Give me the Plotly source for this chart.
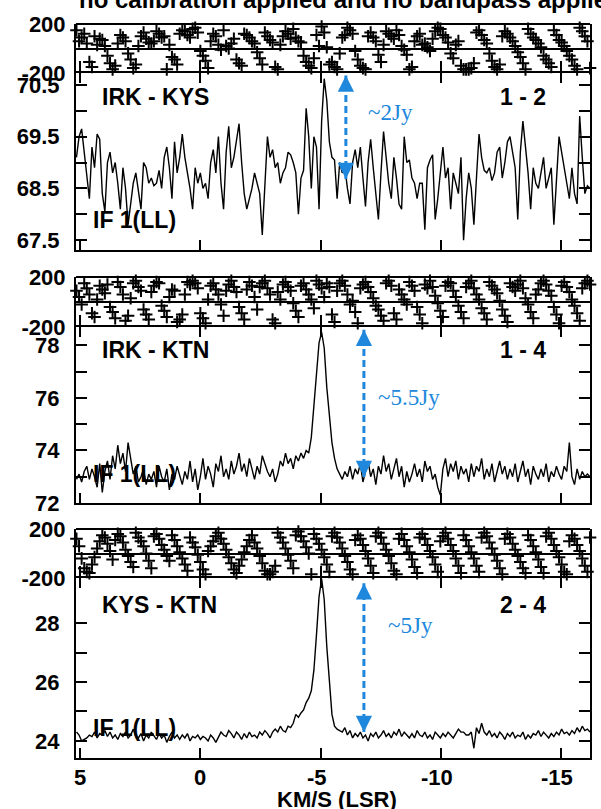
import numpy as np
import plotly.graph_objects as go

# ---------------- data ----------------
N_CH = 200
velocity = np.linspace(5.15, -16.2, N_CH)  # channel velocities (km/s, LSR)

amp_irk_kys = [
    69.1, 69.5, 69.65, 69.2, 68.8, 68.3, 69.3, 68.9, 69.55, 69.45,
    68.4, 68.05, 69.0, 69.2, 68.8, 69.0, 68.6, 68.1, 68.9, 68.5,
    67.8, 68.2, 68.6, 68.8, 68.4, 68.1, 69.0, 68.9, 68.6, 68.7,
    68.55, 68.6, 68.85, 68.5, 69.1, 69.3, 68.9, 68.3, 69.4, 68.8,
    69.1, 69.55, 69.1, 68.8, 68.5, 68.1, 68.9, 68.6, 68.8, 68.5,
    68.6, 68.3, 69.0, 69.25, 68.8, 69.5, 68.6, 68.1, 69.2, 69.7,
    68.9, 69.1, 69.45, 69.75, 69.0, 68.4, 68.1, 68.3, 68.5, 68.8,
    68.6, 68.4, 67.6, 68.6, 69.5, 69.1, 69.25, 68.9, 69.0, 68.6,
    68.8, 68.9, 69.2, 69.15, 69.0, 68.8, 68.0, 68.7, 68.85, 70.05,
    69.5, 68.5, 69.5, 69.3, 68.1, 69.8, 70.62, 70.2, 69.4, 69.1,
    69.05, 68.3, 69.0, 68.8, 68.9, 68.5, 68.2, 69.0, 69.25, 68.9,
    69.3, 68.7, 68.15, 69.0, 69.45, 68.9, 68.4, 67.9, 68.8, 69.6,
    69.1, 68.6, 68.3, 69.1, 68.7, 68.2, 68.1, 69.5, 69.0, 69.05,
    68.7, 68.6, 68.3, 68.6, 68.6, 67.7, 68.9, 69.05, 69.15, 67.9,
    68.3, 68.8, 69.3, 68.7, 68.9, 68.1, 68.8, 68.6, 68.4, 69.1,
    67.5, 68.3, 68.8, 68.5, 67.8, 68.7, 69.55, 69.1, 68.85, 68.8,
    68.9, 68.65, 68.8, 69.2, 69.3, 68.7, 69.0, 69.4, 69.5, 69.2,
    68.9, 67.9, 69.2, 69.8, 69.3, 68.8, 68.1, 68.9, 68.6, 68.5,
    68.8, 69.1, 68.5, 68.7, 68.9, 67.8, 68.6, 69.5, 69.2, 68.9,
    68.6, 68.3, 68.9, 68.4, 68.2, 69.9, 69.1, 68.4, 68.55, 68.5,
]

amp_irk_ktn = [
    72.9, 73.1, 72.8, 73.2, 73.4, 72.9, 73.3, 73.0, 72.6, 73.5,
    72.4, 73.2, 73.6, 72.9, 73.8, 73.3, 74.2, 73.5, 73.9, 73.2,
    74.3, 73.6, 73.1, 73.4, 72.8, 73.0, 73.3, 72.7, 73.1, 72.9,
    73.2, 72.6, 73.4, 73.0, 72.8, 73.3, 72.5, 73.1, 72.9, 73.4,
    73.0, 72.7, 73.2, 72.9, 73.6, 72.8, 73.3, 72.5, 73.0, 73.7,
    72.9, 73.4, 73.1, 72.6, 73.5, 73.2, 73.8, 73.0, 73.3, 72.9,
    73.6, 73.1, 73.4, 73.9, 73.2, 73.5, 73.0, 73.7, 73.3, 72.9,
    73.4, 73.1, 73.8, 73.5, 73.2, 73.0, 73.3, 72.8, 73.1, 73.6,
    73.4, 73.9, 73.5, 73.7, 73.3, 73.8, 73.6, 73.9, 73.7, 74.0,
    73.9, 74.5, 75.6, 76.9, 78.1, 78.5, 77.9, 76.4, 75.3, 74.3,
    73.7, 73.3, 73.1, 72.9, 73.2, 73.0, 73.4, 72.9, 73.3, 73.1,
    73.5, 72.8, 73.2, 73.6, 73.0, 73.3, 72.7, 73.4, 73.1, 73.8,
    73.2, 73.5, 72.9, 73.3, 73.7, 73.0, 73.4, 72.6, 73.2, 72.8,
    73.1, 73.5, 73.0, 73.3, 72.8, 73.6, 73.2, 73.4, 72.9, 73.1,
    72.6, 72.3, 73.3, 73.7, 73.0, 73.5, 73.2, 73.6, 72.9, 73.4,
    73.1, 73.3, 72.8, 73.5, 73.0, 73.4, 73.2, 73.7, 72.9, 73.3,
    73.0, 73.5, 72.8, 73.2, 73.6, 73.1, 73.4, 72.9, 73.3, 73.0,
    73.5, 72.8, 73.2, 73.6, 73.0, 73.3, 72.7, 73.4, 73.1, 72.9,
    73.3, 73.0, 73.5, 72.8, 73.2, 73.0, 73.4, 73.1, 72.9, 73.4,
    73.2, 74.3, 73.0, 72.7, 73.3, 72.9, 73.2, 73.0, 73.1, 73.0,
]

amp_kys_ktn = [
    24.3, 24.2, 24.0, 24.05, 24.1, 24.2, 24.15, 24.3, 24.1, 24.25,
    24.2, 24.35, 24.15, 24.3, 24.1, 24.2, 24.05, 24.25, 24.15, 24.3,
    24.1, 24.2, 24.4, 24.15, 24.1, 24.25, 24.0, 24.2, 24.1, 24.3,
    24.15, 24.05, 24.25, 24.1, 24.2, 23.95, 24.15, 24.3, 24.1, 24.2,
    24.05, 24.2, 24.1, 24.25, 24.0, 24.15, 24.1, 24.2, 24.05, 24.15,
    24.1, 24.0, 24.2, 24.1, 23.95, 24.1, 24.3, 24.2, 24.15, 24.35,
    24.25, 24.1, 24.3, 24.2, 24.05, 24.25, 24.1, 24.3, 24.15, 24.2,
    24.1, 24.3, 24.2, 24.35, 24.25, 24.1, 24.3, 24.4, 24.3, 24.5,
    24.35, 24.3, 24.5, 24.45, 24.6, 24.9, 24.8, 24.95, 25.05, 25.3,
    25.45, 25.7, 26.4, 27.6, 28.9, 29.5, 28.8, 27.2, 25.9, 24.9,
    24.5, 24.4, 24.35, 24.3, 24.45, 24.2, 24.35, 24.1, 24.25, 24.15,
    24.3, 24.1, 24.2, 24.0, 24.25, 24.15, 24.3, 24.1, 24.2, 24.35,
    24.15, 24.25, 24.1, 24.3, 24.2, 24.4, 24.15, 24.3, 24.2, 24.1,
    24.25, 24.1, 24.35, 24.2, 24.15, 24.3, 24.1, 24.2, 24.05, 24.3,
    24.2, 24.1, 24.25, 24.15, 24.3, 24.2, 24.1, 24.25, 24.4, 24.3,
    24.3, 24.2, 24.2, 24.3, 23.75, 24.45, 24.25, 24.6, 24.3, 24.2,
    24.35, 24.15, 24.25, 24.1, 24.3, 24.2, 24.05, 24.25, 24.15, 24.3,
    24.1, 24.2, 24.15, 24.3, 24.05, 24.2, 24.1, 24.25, 24.2, 24.35,
    24.15, 24.3, 24.2, 24.1, 24.25, 24.15, 24.3, 24.2, 24.4, 24.25,
    24.3, 24.2, 24.35, 24.25, 24.45, 24.3, 24.5, 24.35, 24.4, 24.3,
]

phase_irk_kys = [
    150, 60, 90, 120, 40, -110, -150, 100, 30, 80,
    70, 20, -60, -120, -170, -140, 40, 110, 90, 60,
    -40, -90, -160, -130, 20, 100, 130, 80, 50, 40,
    60, 140, 120, 90, 100, -170, 30, -70, -90, -130,
    120, 150, 140, 110, 90, 160, 170, 130, -20, -60,
    -100, -160, 60, 120, 100, 30, -10, 150, 20, 0,
    40, 80, -90, -120, -140, 120, 110, 90, 60, 40,
    -30, -80, -130, 130, 100, 70, 50, -150, -170, 30,
    100, 140, 120, 80, 160, 90, 60, 50, -60, -110,
    -140, -160, -80, 110, 20, 180, 130, 10, -130, -110,
    -150, -170, -40, 90, 110, 170, 150, 120, -20, -90,
    -140, -160, -170, 100, 130, 90, 60, -50, -110, 30,
    140, 120, 100, 80, 150, 110, 20, -10, -50, -170,
    -150, 60, 100, 120, 30, 40, 10, -20, 80, 140,
    170, 160, 110, 90, 50, -40, -80, 30, 60, -140,
    -170, -170, -170, -160, -120, 130, 150, 110, 70, 40,
    -40, -100, -150, -170, -130, 100, 140, 120, 90, 60,
    20, -30, -70, -120, -170, 160, 120, 90, 70, 40,
    10, -60, -90, -120, -150, 150, 110, 70, 50, 20,
    -20, -60, -90, -140, -170, 170, 140, 100, 60, -160,
]

phase_irk_ktn = [
    90, 40, -20, 150, 110, 60, -90, -120, 20, 130,
    100, 70, 140, -40, -80, -130, 160, 120, 60, -150,
    -110, 30, 150, 170, 120, 90, -60, -100, -140, 80,
    130, 160, 150, -30, -70, -120, 40, 100, 90, -160,
    -140, -100, 60, 160, 140, 170, 150, 110, -90, -130,
    -170, 20, 130, 150, 100, 60, -20, -110, 90, 140,
    170, 120, 80, -40, -90, -140, 100, 160, 130, 40,
    -60, 120, 150, 170, 110, 60, -140, -170, 80, 20,
    140, 160, 120, 90, -10, -70, -120, 130, 150, 100,
    60, 20, -50, 170, 140, 110, 40, 150, 120, -100,
    -160, 90, 150, 170, 130, 60, -20, 10, -80, -170,
    110, 140, 160, 120, 80, 30, -30, -60, -110, -150,
    150, 170, 130, -90, -140, 100, 60, 20, -20, 160,
    130, 90, -40, -100, -170, 140, 110, 170, 120, 50,
    -10, -70, -120, 130, 160, 150, 90, 40, -30, -80,
    -130, 120, 150, 170, 110, 60, 20, -50, -90, -140,
    160, 130, 100, 70, 10, -60, -110, -160, 150, 120,
    90, 140, 170, 110, 30, -20, -80, -130, 60, 100,
    150, 170, 140, 90, 50, -40, -100, -170, 130, 160,
    120, 80, 20, -30, -90, -150, 110, 150, 170, 140,
]

phase_kys_ktn = [
    120, 60, -40, -120, -150, -160, -90, -30, 40, 100,
    150, 130, 80, 20, -50, 110, 160, 140, 90, 30,
    -20, -70, -110, 170, 130, 100, 60, 0, -60, -120,
    140, 160, 120, 70, 30, -20, -60, 150, 110, 60,
    10, -40, -90, -140, 130, 90, 50, -10, -70, -130,
    -170, 20, 60, 100, 140, 170, 120, 80, 30, -30,
    -80, -130, -160, -100, -50, 10, 60, 110, 150, 90,
    40, -20, -80, -140, -170, -170, -150, -100, 170, 130,
    90, 40, -10, -60, -120, 150, 180, 140, 100, 50,
    0, -170, 160, 120, 80, 30, -30, -90, -150, 140,
    170, 130, 90, 40, -20, -70, -130, -170, 110, 150,
    120, 70, 20, -40, -100, -160, 140, 170, 130, 80,
    30, -20, -80, -140, -170, 120, 160, 110, 60, 10,
    -50, -110, -160, 130, 160, 120, 70, 20, -30, -90,
    -150, 100, 140, 170, 120, 70, 20, -40, -100, -160,
    150, 110, 60, 10, -40, -100, -150, 130, 170, 140,
    90, 40, -10, -60, -120, -170, 120, 160, 130, 80,
    30, -20, -70, -120, -160, 150, 110, 60, 10, -50,
    -110, -160, 140, 170, 120, 70, 20, -30, -90, -150,
    -170, 100, 150, 120, 70, 20, -40, -100, -150, 130,
]

baselines = ["IRK - KYS", "IRK - KTN", "KYS - KTN"]
ant_pairs = ["1 - 2", "1 - 4", "2 - 4"]
if_label = "IF 1(LL)"
amp_ranges = [[67.31, 70.73], [72.0, 78.7], [23.42, 29.53]]
amp_tickvals = [[67.5, 68, 68.5, 69, 69.5, 70, 70.5],
                [72, 73, 74, 75, 76, 77, 78],
                [24, 25, 26, 27, 28]]
amp_ticktext = [["67.5", "", "68.5", "", "69.5", "", "70.5"],
                ["72", "", "74", "", "76", "", "78"],
                ["24", "", "26", "", "28"]]
flux_labels = ["~2Jy", "~5.5Jy", "~5Jy"]
arrow_vel = [-6.05, -6.8, -6.8]
arrow_low = [68.68, 72.99, 24.3]
arrow_high = [70.68, 78.6, 29.35]
x_ticks = [5, 0, -5, -10, -15]
x_range = [5.17, -16.2]
title_text = "no calibration applied and no bandpass applied"

# ---------------- layout helpers ----------------
W, H = 601, 809
ML, MR, MT, MB = 76, 9, 24, 51
PW = W - ML - MR
PH = H - MT - MB


def py(pix):  # pixel row -> paper y
    return (H - MB - pix) / PH


def px(pix):  # pixel column -> paper x
    return (pix - ML) / PW


# panel pixel boundaries (top, mid, bottom) for phase and amplitude boxes
panel_rows = [(24, 73, 250), (277, 327, 503), (529, 578, 758)]

FONT = "Liberation Sans, Arial, sans-serif"
BLUE = "#2088dc"

fig = go.Figure()
amps = [amp_irk_kys, amp_irk_ktn, amp_kys_ktn]
phases = [phase_irk_kys, phase_irk_ktn, phase_kys_ktn]

layout = dict(
    width=W, height=H, margin=dict(l=ML, r=MR, t=MT, b=MB),
    paper_bgcolor="white", plot_bgcolor="white", showlegend=False,
)

axis_common = dict(showline=True, linecolor="black", linewidth=2, mirror="ticks",
                   ticks="inside", tickcolor="black", showgrid=False, zeroline=False)

annotations = []
shapes = []


def sfx(n):
    return "" if n == 1 else str(n)


for p in range(3):
    top, mid, bot = panel_rows[p]
    ph_ax = 2 * p + 1
    am_ax = 2 * p + 2
    # phase trace
    fig.add_trace(go.Scatter(
        x=velocity, y=phases[p], mode="markers",
        xaxis="x" + sfx(ph_ax), yaxis="y" + sfx(ph_ax),
        marker=dict(symbol="cross-thin", size=9, color="black",
                    line=dict(width=2, color="black")),
        cliponaxis=False, hoverinfo="skip"))
    # amplitude trace
    fig.add_trace(go.Scatter(
        x=velocity, y=amps[p], mode="lines",
        xaxis="x" + sfx(am_ax), yaxis="y" + sfx(am_ax),
        line=dict(color="black", width=1.4), hoverinfo="skip"))

    # phase x axis: no own line (amplitude top line serves as the divider), ticks inside from bottom
    layout["xaxis" + sfx(ph_ax)] = dict(range=x_range, anchor="y" + sfx(ph_ax),
                                         showline=False, showgrid=False, zeroline=False,
                                         ticks="inside", tickcolor="black",
                                         tickvals=x_ticks, ticklen=12, tickwidth=1.5,
                                         showticklabels=False,
                                         matches=None if ph_ax == 1 else "x")
    layout["yaxis" + sfx(ph_ax)] = dict(axis_common, range=[-200, 200], anchor="x" + sfx(ph_ax),
                                         domain=[py(mid), py(top)],
                                         tickvals=[-200, 200], ticktext=["-200", "200"],
                                         ticklen=6, tickwidth=1.5,
                                         zeroline=True, zerolinecolor="black", zerolinewidth=1.6,
                                         tickfont=dict(family=FONT, size=22, color="black", weight="bold"),
                                         ticklabelstandoff=4)
    # top border of the phase box
    shapes.append(dict(type="line", xref="paper", yref="y" + sfx(ph_ax) + " domain",
                       x0=0, x1=1, y0=1, y1=1, line=dict(color="black", width=2)))
    layout["xaxis" + sfx(am_ax)] = dict(axis_common, range=x_range, anchor="y" + sfx(am_ax),
                                         tickvals=x_ticks, ticklen=10, tickwidth=1.5,
                                         showticklabels=False, matches="x")
    layout["yaxis" + sfx(am_ax)] = dict(axis_common, range=amp_ranges[p], anchor="x" + sfx(am_ax),
                                         domain=[py(bot), py(mid)],
                                         tickvals=amp_tickvals[p], ticktext=amp_ticktext[p],
                                         ticklen=11, tickwidth=1.5,
                                         tickfont=dict(family=FONT, size=22, color="black", weight="bold"),
                                         ticklabelstandoff=10)

    lab_font = dict(family=FONT, size=23, color="black", weight="bold")
    label_rows = [(97, 97, 220), (350, 350, 474), (605, 605, 728)]
    r1, r2, r3 = label_rows[p]
    annotations.append(dict(text=baselines[p], xref="paper", yref="paper", x=px(100), y=py(r1),
                            xanchor="left", yanchor="middle", showarrow=False, font=lab_font))
    annotations.append(dict(text=ant_pairs[p], xref="paper", yref="paper", x=px(550), y=py(r2),
                            xanchor="right", yanchor="middle", showarrow=False, font=lab_font))
    annotations.append(dict(text=if_label, xref="paper", yref="paper", x=px(91), y=py(r3),
                            xanchor="left", yanchor="middle", showarrow=False, font=lab_font))

    # blue dashed double arrow
    xa = "x" + sfx(am_ax)
    ya = "y" + sfx(am_ax)
    shapes.append(dict(type="line", xref=xa, yref=ya, x0=arrow_vel[p], x1=arrow_vel[p],
                       y0=arrow_low[p], y1=arrow_high[p],
                       line=dict(color=BLUE, width=3, dash="7px,4px")))
    for yy, off in ((arrow_high[p], 12), (arrow_low[p], -12)):
        annotations.append(dict(text="", xref=xa, yref=ya, x=arrow_vel[p], y=yy,
                                ax=0, ay=off, showarrow=True, arrowhead=2, arrowsize=1.3,
                                arrowwidth=2.5, arrowcolor=BLUE, standoff=0, startstandoff=0))
    flux_pos = [(367, 113), (377, 397), (387, 625)]
    fx, fy = flux_pos[p]
    annotations.append(dict(text=flux_labels[p], xref="paper", yref="paper", x=px(fx), y=py(fy),
                            xanchor="left", yanchor="middle", showarrow=False,
                            font=dict(family="Liberation Serif, Times New Roman, serif",
                                      size=23, color=BLUE)))

# bottom x tick labels (digits centered on ticks)
for v in x_ticks:
    shift = -3.7 if v < 0 else 0
    annotations.append(dict(text=str(v), xref="x6", yref="paper", x=v, y=py(777), xshift=shift,
                            xanchor="center", yanchor="middle", showarrow=False,
                            font=dict(family=FONT, size=22, color="black", weight="bold")))
annotations.append(dict(text="KM/S (LSR)", xref="paper", yref="paper", x=px(338), y=py(799),
                        xanchor="center", yanchor="middle", showarrow=False,
                        font=dict(family=FONT, size=22, color="black", weight="bold")))
# clipped title at the very top (only its lower part is visible, as in the original)
annotations.append(dict(text=title_text, xref="paper", yref="paper", x=px(77), y=py(-1),
                        xanchor="left", yanchor="middle", showarrow=False,
                        font=dict(family=FONT, size=24, color="black", weight="bold")))

layout["annotations"] = annotations
layout["shapes"] = shapes
fig.update_layout(**layout)
fig.write_html("out.html")
